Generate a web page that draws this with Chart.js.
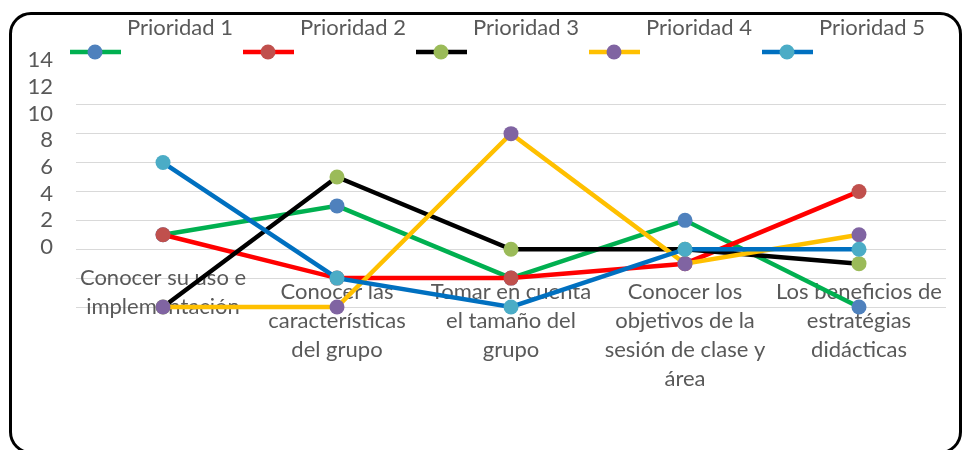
<!DOCTYPE html>
<html>
<head>
<meta charset="utf-8">
<script src="https://cdn.jsdelivr.net/npm/chart.js@4"></script>
<style>
    html, body { margin: 0; padding: 0; background: #fff; }
    #wrap { position: relative; width: 962px; height: 450px; overflow: hidden; }
    #chart { position: absolute; left: 0; top: 0; }
    #frame {
        position: absolute; left: 9px; top: 12px; width: 953px; height: 442px;
        box-sizing: border-box; border: 3px solid #000; border-radius: 22px;
        pointer-events: none;
    }
</style>
</head>
<body>
<div id="wrap">
    <canvas id="chart" width="962" height="450"></canvas>
    <div id="frame"></div>
</div>
<script>
    var categories = [
        ['Conocer su uso e', 'implementación'],
        ['Conocer las', 'características', 'del grupo'],
        ['Tomar en cuenta', 'el tamaño del', 'grupo'],
        ['Conocer los', 'objetivos de la', 'sesión de clase y', 'área'],
        ['Los beneficios de', 'estratégias', 'didácticas']
    ];
    var seriesNames = ['Prioridad 1', 'Prioridad 2', 'Prioridad 3', 'Prioridad 4', 'Prioridad 5'];
    var prioridad1 = [1, 3, -2, 2, -4];
    var prioridad2 = [1, -2, -2, -1, 4];
    var prioridad3 = [-4, 5, 0, 0, -1];
    var prioridad4 = [-4, -4, 8, -1, 1];
    var prioridad5 = [6, -2, -4, 0, 0];
    var yTickLabels = [0, 2, 4, 6, 8, 10, 12, 14];

    var lineColors = ['#00B050', '#FF0000', '#000000', '#FFC000', '#0070C0'];
    var markerColors = ['#4F81BD', '#C0504D', '#9BBB59', '#8064A2', '#4BACC6'];
    var textColor = '#595959';
    var fontFamily = 'Lato, "Open Sans", sans-serif';

    var allSeries = [prioridad1, prioridad2, prioridad3, prioridad4, prioridad5];

    var datasets = allSeries.map(function (values, i) {
        return {
            label: seriesNames[i],
            data: values,
            borderColor: lineColors[i],
            backgroundColor: markerColors[i],
            pointBackgroundColor: markerColors[i],
            pointBorderColor: markerColors[i],
            pointRadius: 7.5,
            pointBorderWidth: 0,
            borderWidth: 4.5,
            tension: 0,
            clip: false,
            order: allSeries.length - i,
            yAxisID: 'y'
        };
    });

    // legend: line sample below, name raised to the right (as in the picture)
    var legendPlugin = {
        id: 'offsetLegend',
        afterDraw: function (chart) {
            var ctx = chart.ctx;
            ctx.save();
            chart.data.datasets.forEach(function (ds, i) {
                var x0 = 70 + i * 173;
                ctx.strokeStyle = ds.borderColor;
                ctx.lineWidth = 4.5;
                ctx.beginPath();
                ctx.moveTo(x0, 52);
                ctx.lineTo(x0 + 51, 52);
                ctx.stroke();
                ctx.fillStyle = ds.pointBackgroundColor;
                ctx.beginPath();
                ctx.arc(x0 + 25, 52, 7.5, 0, Math.PI * 2);
                ctx.fill();
                ctx.fillStyle = textColor;
                ctx.font = '22px ' + fontFamily;
                ctx.textBaseline = 'middle';
                ctx.textAlign = 'left';
                ctx.fillText(ds.label, x0 + 57, 28);
            });
            ctx.restore();
        }
    };

    var ctx = document.getElementById('chart').getContext('2d');
    var chart = new Chart(ctx, {
        type: 'line',
        data: {
            labels: categories,
            datasets: datasets
        },
        options: {
            responsive: false,
            animation: false,
            layout: { padding: { top: 47, left: 10, right: 16, bottom: 143 } },
            plugins: {
                legend: { display: false },
                tooltip: { enabled: false }
            },
            scales: {
                x: {
                    type: 'category',
                    position: { y: 0 },
                    offset: true,
                    grid: { display: false, drawTicks: false },
                    border: { display: false },
                    ticks: {
                        color: textColor,
                        font: { family: fontFamily, size: 22, lineHeight: 1.32 },
                        padding: 28,
                        maxRotation: 0,
                        minRotation: 0,
                        autoSkip: false
                    },
                    afterFit: function (s) {
                        s.paddingLeft = 0;
                        s.paddingRight = 0;
                    },
                    afterUpdate: function (s) {
                        // first label sits half a line higher in the original
                        var orig = s._computeLabelItems;
                        if (orig && !s._patched) {
                            s._patched = true;
                            s._computeLabelItems = function (area) {
                                var items = orig.call(this, area);
                                if (items[0]) items[0].textOffset -= 14;
                                return items;
                            };
                        }
                    }
                },
                yl: {
                    type: 'linear',
                    position: 'left',
                    min: -4.5,
                    max: 15,
                    grid: { display: false, drawTicks: false },
                    border: { display: false },
                    ticks: {
                        color: textColor,
                        font: { family: fontFamily, size: 22 },
                        padding: 23
                    },
                    afterBuildTicks: function (s) {
                        s.ticks = yTickLabels.map(function (v) { return { value: v }; });
                    },
                    afterFit: function (s) { s.width = 66; }
                },
                y: {
                    type: 'linear',
                    position: 'left',
                    min: -4,
                    max: 14,
                    ticks: { display: false, stepSize: 2 },
                    border: { display: false },
                    grid: {
                        drawTicks: false,
                        lineWidth: 1,
                        color: function (c) {
                            return c.tick && c.tick.value > 10 ? 'rgba(0,0,0,0)' : '#D9D9D9';
                        }
                    },
                    afterFit: function (s) { s.width = 0; }
                }
            }
        },
        plugins: [legendPlugin]
    });
</script>
</body>
</html>
